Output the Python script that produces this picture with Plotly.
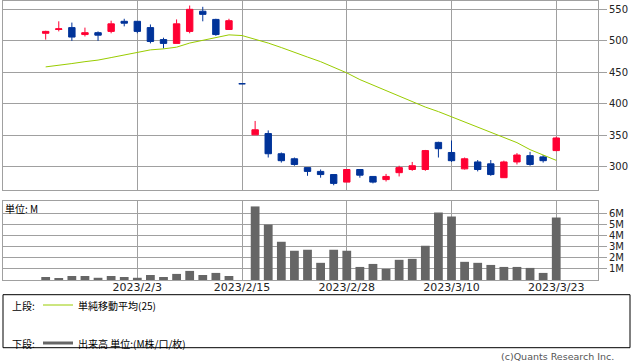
import plotly.graph_objects as go

dates = ["2023/1/25", "2023/1/26", "2023/1/27", "2023/1/30", "2023/1/31", "2023/2/1", "2023/2/2",
         "2023/2/3", "2023/2/6", "2023/2/7", "2023/2/8", "2023/2/9", "2023/2/10", "2023/2/13",
         "2023/2/14", "2023/2/15", "2023/2/16", "2023/2/17", "2023/2/20", "2023/2/21", "2023/2/22",
         "2023/2/24", "2023/2/27", "2023/2/28", "2023/3/1", "2023/3/2", "2023/3/3", "2023/3/6",
         "2023/3/7", "2023/3/8", "2023/3/9", "2023/3/10", "2023/3/13", "2023/3/14", "2023/3/15",
         "2023/3/16", "2023/3/17", "2023/3/20", "2023/3/22", "2023/3/23"]

open_ = [512, 518, 521, 510, 513, 515, 531, 531, 521, 502, 496, 515, 547, 534, 518, 432,
         351, 353, 321, 313, 299, 293, 288, 276, 296, 285, 280, 291, 296, 296, 339, 323,
         297, 308, 305, 283, 308, 318, 316, 326]
high = [516, 531, 529, 521, 515, 532, 535, 531, 526, 505, 534, 556, 554, 535, 535, 432,
        373, 358, 323, 315, 299, 296, 288, 296, 296, 285, 289, 302, 308, 327, 340, 342,
        315, 311, 311, 310, 322, 324, 319, 348]
low = [502, 515, 500, 507, 500, 512, 523, 512, 496, 488, 496, 512, 531, 508, 518, 432,
       351, 315, 307, 302, 286, 283, 271, 276, 283, 274, 277, 285, 294, 294, 315, 308,
       296, 293, 286, 283, 304, 302, 307, 325]
close = [515, 519, 506, 513, 509, 527, 528, 515, 499, 496, 527, 550, 542, 510, 532, 432,
         359, 321, 310, 304, 293, 288, 274, 296, 287, 276, 285, 299, 302, 326, 329, 310,
         313, 296, 288, 308, 319, 304, 310, 346]

ma25 = [458.7, 460.8, 464.0, 467.0, 469.5, 473.5, 477.5, 482.0, 485.7, 487.3, 490.0, 496.5,
        501.0, 505.0, 509.5, 508.4, 503.0, 496.5, 489.4, 481.4, 474.3, 467.0, 458.4, 449.2,
        438.6, 430.0, 420.3, 411.6, 403.0, 395.0, 387.8, 379.4, 371.0, 363.0, 355.0, 347.0,
        338.6, 327.5, 318.8, 310.5]

volume_m = [0.27, 0.18, 0.36, 0.36, 0.20, 0.36, 0.27, 0.20, 0.45, 0.27, 0.55, 0.82, 0.45,
            0.64, 0.36, 0.0, 6.64, 5.00, 3.45, 2.64, 2.73, 1.55, 2.73, 2.64, 1.18, 1.45,
            1.00, 1.82, 1.91, 3.09, 6.09, 5.73, 1.64, 1.55, 1.36, 1.18, 1.18, 1.09, 0.64, 5.64]

x_ticks = ["2023/2/3", "2023/2/15", "2023/2/28", "2023/3/10", "2023/3/23"]
price_ticks = [300, 350, 400, 450, 500, 550]
vol_ticks = [1, 2, 3, 4, 5, 6]
vol_tick_text = ["1M", "2M", "3M", "4M", "5M", "6M"]

W, H = 638, 362
ML, MR, MT, MB = 3, 40, 1, 82
PW, PH = W - ML - MR, H - MT - MB


def px(x):
    return (x - ML) / PW


def py(y):
    return (H - MB - y) / PH


GRID = "#a0a0a0"
RED = "#ff0033"
BLUE = "#003399"
JP = "Noto Sans CJK JP"
LAT = "DejaVu Sans"

fig = go.Figure()
fig.add_trace(go.Candlestick(
    x=dates, open=open_, high=high, low=low, close=close,
    increasing=dict(line=dict(color=RED, width=1), fillcolor=RED),
    decreasing=dict(line=dict(color=BLUE, width=1), fillcolor=BLUE),
    xaxis="x", yaxis="y", showlegend=False, hoverinfo="skip"))
fig.add_trace(go.Scatter(
    x=dates, y=ma25, mode="lines", line=dict(color="#99cc00", width=1),
    xaxis="x", yaxis="y", showlegend=False, hoverinfo="skip"))
fig.add_trace(go.Bar(
    x=dates, y=volume_m, marker=dict(color="#666666", line=dict(width=0)),
    width=0.67, xaxis="x2", yaxis="y2", showlegend=False, hoverinfo="skip"))

xcommon = dict(type="category", categoryorder="array", categoryarray=dates,
               range=[-3.26, 42.19], tickvals=x_ticks, ticktext=x_ticks,
               showgrid=True, gridcolor=GRID, gridwidth=1,
               showline=True, linecolor=GRID, linewidth=1, mirror=True,
               ticks="", zeroline=False, fixedrange=True)

fig.update_layout(
    width=W, height=H,
    margin=dict(l=ML, r=MR, t=MT, b=MB, pad=0),
    paper_bgcolor="white", plot_bgcolor="white",
    showlegend=False,
    boxgap=0.3,
    bargap=0.3,
    xaxis=dict(**xcommon, anchor="y", domain=[0, 1], showticklabels=False,
               rangeslider=dict(visible=False)),
    yaxis=dict(domain=[py(190), 1], range=[263.5, 563.2], side="right",
               tickvals=price_ticks, showgrid=True, gridcolor=GRID, gridwidth=1,
               showline=True, linecolor=GRID, linewidth=1, mirror=True,
               ticks="outside", ticklen=8, tickcolor=GRID, zeroline=False, fixedrange=True,
               tickfont=dict(family=LAT, size=10, color="#222222"), anchor="x"),
    xaxis2=dict(**xcommon, anchor="y2", domain=[0, 1], matches="x",
                showticklabels=True, ticklabelstandoff=-3,
                tickfont=dict(family=LAT, size=11, color="#222222")),
    yaxis2=dict(domain=[0, py(201)], range=[0, 7.13], side="right",
                tickvals=vol_ticks, ticktext=vol_tick_text,
                showgrid=True, gridcolor=GRID, gridwidth=1,
                showline=True, linecolor=GRID, linewidth=1, mirror=True,
                ticks="outside", ticklen=8, tickcolor=GRID, zeroline=False, fixedrange=True,
                tickfont=dict(family=LAT, size=10, color="#222222"), anchor="x2"),
)

shapes = [
    dict(type="rect", xref="paper", yref="paper", x0=px(3), x1=px(630), y0=py(294.7), y1=py(347.7),
         line=dict(color="black", width=1), fillcolor="rgba(0,0,0,0)"),
    dict(type="line", xref="paper", yref="paper", x0=px(43), x1=px(73), y0=py(305), y1=py(305),
         line=dict(color="#99cc00", width=1)),
    dict(type="line", xref="paper", yref="paper", x0=px(43), x1=px(73), y0=py(343), y1=py(343),
         line=dict(color="#666666", width=3)),
]
fig.update_layout(shapes=shapes)

def ann(text, x, y, size=10, family=JP, color="black", xanchor="left"):
    return dict(text=text, xref="paper", yref="paper", x=px(x), y=py(y), xanchor=xanchor,
                yanchor="middle", showarrow=False, borderpad=0,
                font=dict(family=family, size=size, color=color))

fig.update_layout(annotations=[
    ann("単位: M", 4, 208.5),
    ann("上段:", 11, 305),
    ann("単純移動平均(25)", 77, 305),
    ann("下段:", 11, 343),
    ann("出来高 単位:(M株/口/枚)", 77, 343),
    ann("(c)Quants Research Inc.", 615, 356.5, size=9.5, family=LAT, color="#555555", xanchor="right"),
])

fig.write_html("out.html", config={"displayModeBar": False, "staticPlot": True},
               post_script="document.body.style.margin='0px';document.body.style.overflow='hidden';")
